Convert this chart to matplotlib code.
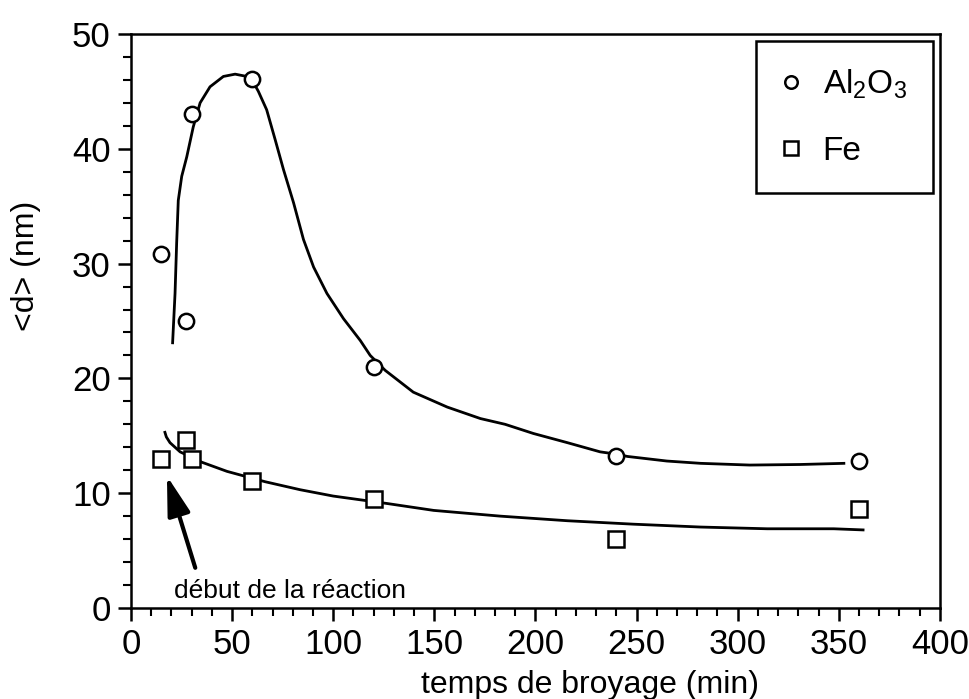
import matplotlib
matplotlib.use('Agg')
import matplotlib.pyplot as plt
from matplotlib.lines import Line2D

plt.rcParams['font.family'] = ['Liberation Sans', 'DejaVu Sans']
plt.rcParams['mathtext.default'] = 'regular'

# measured points
t_al = [15, 27, 30, 60, 120, 240, 360]
d_al = [30.8, 25.0, 43.0, 46.1, 21.0, 13.2, 12.8]
t_fe = [15, 27, 30, 60, 120, 240, 360]
d_fe = [13.0, 14.6, 13.0, 11.1, 9.5, 6.0, 8.6]

# hand-drawn guide curves
curve_al_t = [20.6, 21.8, 22.6, 23.4, 25.1, 27.6, 30.8, 34.2, 39.1, 45.7, 51.5,
              57.3, 60.5, 63.0, 67.1, 71.3, 75.4, 80.4, 85.3, 90.3, 96.9,
              105.1, 113.4, 118.3, 125.7, 139.6, 156.4, 172.8, 185.0, 199.0,
              215.8, 232.0, 240.0, 245.5, 265.0, 281.7, 306.0, 331.0, 352.5]
curve_al_d = [23.1, 27.4, 31.8, 35.5, 37.6, 39.3, 41.9, 44.0, 45.4, 46.3, 46.5,
              46.3, 45.8, 45.0, 43.4, 40.8, 38.2, 35.3, 32.1, 29.7, 27.4,
              25.2, 23.3, 22.0, 20.7, 18.8, 17.5, 16.5, 16.0, 15.2,
              14.4, 13.6, 13.4, 13.2, 12.8, 12.6, 12.45, 12.5, 12.6]
curve_fe_t = [16.8, 17.5, 19.3, 24.3, 35.0, 47.5, 66.3, 83.7, 100.0, 126.7,
              149.7, 182.7, 215.8, 248.5, 281.7, 314.6, 347.5, 362.0]
curve_fe_d = [15.3, 14.9, 14.4, 13.6, 12.7, 11.9, 11.0, 10.3, 9.75, 9.1,
              8.5, 8.0, 7.6, 7.3, 7.05, 6.9, 6.9, 6.8]

fig = plt.figure(figsize=(9.7, 6.99), dpi=100)
ax = fig.add_axes([0.135, 0.1302, 0.834, 0.8212])

ax.plot(curve_al_t, curve_al_d, color='black', linewidth=2.0, zorder=2,
        solid_joinstyle='round')
ax.plot(curve_fe_t, curve_fe_d, color='black', linewidth=2.0, zorder=2,
        solid_joinstyle='round')
ax.plot(t_al, d_al, linestyle='none', marker='o', markersize=11,
        markerfacecolor='white', markeredgecolor='black', markeredgewidth=1.8, zorder=3)
ax.plot(t_fe, d_fe, linestyle='none', marker='s', markersize=11,
        markerfacecolor='white', markeredgecolor='black', markeredgewidth=1.8, zorder=3)

ax.set_xlim(0, 400)
ax.set_ylim(0, 50)
ax.set_xticks(range(0, 401, 50))
ax.set_xticks(range(0, 401, 10), minor=True)
ax.set_yticks(range(0, 51, 10))
ax.set_yticks(range(0, 51, 2), minor=True)
ax.tick_params(which='major', direction='out', length=9.5, width=1.8, labelsize=25, pad=5)
ax.tick_params(which='minor', direction='out', length=6, width=1.5)
for s in ax.spines.values():
    s.set_linewidth(1.8)

ax.set_xlabel('temps de broyage (min)', fontsize=23)
ax.xaxis.label.set_va('baseline')
ax.xaxis.set_label_coords(0.568, -0.148)
ax.set_ylabel('<d> (nm)', fontsize=23)
ax.yaxis.label.set_va('center')
ax.yaxis.set_label_coords(-0.130, 0.596)

ax.annotate('', xy=(17.8, 11.5), xytext=(31.8, 3.5),
            arrowprops=dict(arrowstyle='-|>,head_length=2.4,head_width=0.7',
                            color='black', linewidth=3, shrinkA=0, shrinkB=0))
ax.text(21.3, 0.87, 'début de la réaction', fontsize=19, ha='left', va='baseline')

handles = [Line2D([], [], linestyle='none', marker='o', markersize=9,
                  markerfacecolor='white', markeredgecolor='black', markeredgewidth=1.8),
           Line2D([], [], linestyle='none', marker='s', markersize=10,
                  markerfacecolor='white', markeredgecolor='black', markeredgewidth=1.8)]
leg = ax.legend(handles, ['Al$_2$O$_3$', 'Fe'], loc='upper right', fontsize=24,
                frameon=True, fancybox=False, edgecolor='black', framealpha=1,
                borderpad=0.8, labelspacing=1.05, handlelength=0.5,
                handletextpad=0.7, borderaxespad=0.2)
leg.get_frame().set_linewidth(1.8)

fig.savefig('out.png', dpi=100)
